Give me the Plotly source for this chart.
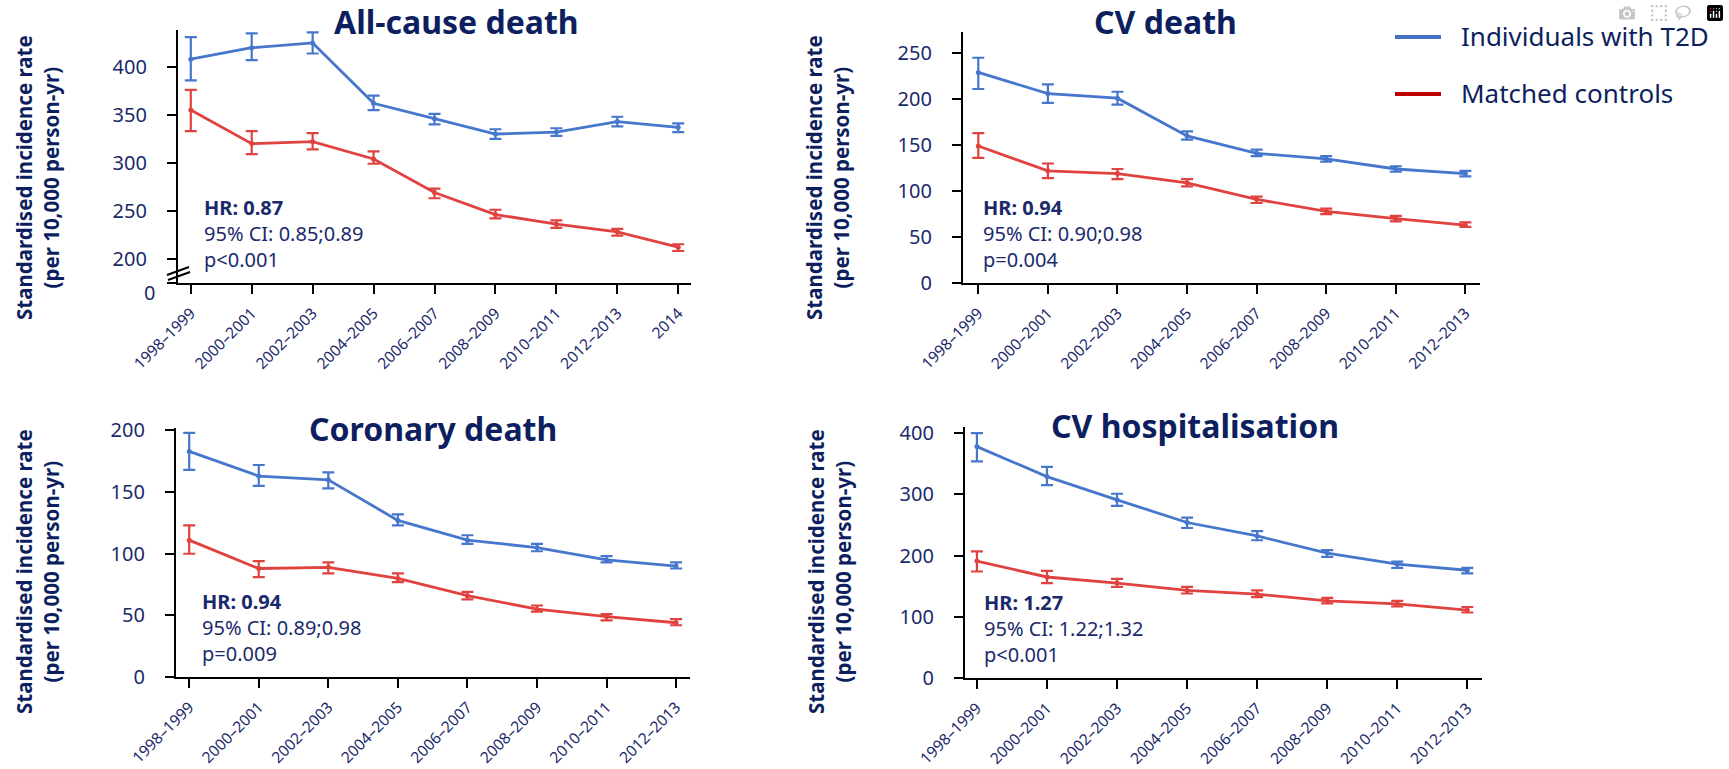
import plotly.graph_objects as go

W, H = 1729, 769

# ---------------- data ----------------
periods_9 = ["1998–1999", "2000–2001", "2002–2003", "2004–2005", "2006–2007",
             "2008–2009", "2010–2011", "2012–2013", "2014"]
periods_8 = ["1998–1999", "2000–2001", "2002–2003", "2004–2005", "2006–2007",
             "2008–2009", "2010–2011", "2012–2013"]

# All-cause death
allcause_t2d = [408, 420, 425, 362, 346, 330, 332, 343, 337]
allcause_t2d_lo = [386, 407, 414, 355, 340, 325, 328, 338, 332]
allcause_t2d_hi = [431, 435, 436, 370, 351, 335, 336, 348, 341]
allcause_ctrl = [355, 320, 322, 304, 269, 246, 236, 228, 212]
allcause_ctrl_lo = [333, 309, 314, 299, 263, 242, 232, 224, 208]
allcause_ctrl_hi = [376, 333, 331, 312, 273, 251, 240, 231, 215]

# CV death
cvdeath_t2d = [229, 206, 201, 160, 141, 135, 124, 119]
cvdeath_t2d_lo = [211, 196, 194, 156, 138, 132, 121, 116]
cvdeath_t2d_hi = [245, 216, 208, 165, 145, 138, 127, 122]
cvdeath_ctrl = [149, 122, 119, 109, 91, 78, 70, 63]
cvdeath_ctrl_lo = [136, 114, 113, 105, 87, 75, 67, 61]
cvdeath_ctrl_hi = [163, 130, 124, 113, 94, 81, 73, 66]

# Coronary death
coronary_t2d = [183, 163, 160, 127, 111, 105, 95, 90]
coronary_t2d_lo = [168, 155, 153, 123, 108, 102, 93, 88]
coronary_t2d_hi = [198, 172, 166, 132, 115, 108, 98, 93]
coronary_ctrl = [111, 88, 89, 80, 66, 55, 49, 44]
coronary_ctrl_lo = [100, 81, 84, 77, 63, 53, 46, 42]
coronary_ctrl_hi = [123, 94, 93, 84, 69, 58, 51, 47]

# CV hospitalisation
cvhosp_t2d = [378, 329, 291, 254, 232, 204, 186, 176]
cvhosp_t2d_lo = [354, 315, 281, 245, 225, 198, 180, 171]
cvhosp_t2d_hi = [400, 345, 301, 262, 240, 209, 190, 180]
cvhosp_ctrl = [191, 165, 155, 143, 137, 126, 121, 111]
cvhosp_ctrl_lo = [174, 155, 149, 138, 132, 122, 117, 107]
cvhosp_ctrl_hi = [207, 175, 162, 149, 143, 131, 126, 116]

titles = ["All-cause death", "CV death", "Coronary death", "CV hospitalisation"]
hr_text = ["HR: 0.87", "HR: 0.94", "HR: 0.94", "HR: 1.27"]
ci_text = ["95% CI: 0.85;0.89", "95% CI: 0.90;0.98", "95% CI: 0.89;0.98", "95% CI: 1.22;1.32"]
p_text = ["p<0.001", "p=0.004", "p=0.009", "p<0.001"]

ytick_vals = [[175, 200, 250, 300, 350, 400],
              [0, 50, 100, 150, 200, 250],
              [0, 50, 100, 150, 200],
              [0, 100, 200, 300, 400]]
# first panel: "0" of the broken axis is written just below the axis corner
ytick_text = [["", "200", "250", "300", "350", "400"],
              ["0", "50", "100", "150", "200", "250"],
              ["0", "50", "100", "150", "200"],
              ["0", "100", "200", "300", "400"]]
break_zero_label = "0"

ytitle_lines = ["Standardised incidence rate", "(per 10,000 person-yr)"]
series_names = ["Individuals with T2D", "Matched controls"]

# ---------------- style ----------------
BLUE = "#4677CC"
RED = "#E0433F"
LEG_BLUE = "#4472C4"
LEG_RED = "#C00000"
NAVY = "#1B2A6B"
NAVY_DARK = "#0D1F5E"
FONT = "Noto Sans"


def px(x):
    return x / W


def py(y):
    return 1 - y / H


# layout geometry in pixels: (x_left, x_right, y_top, y_bottom)
geom = [
    dict(box=(178, 691, 30, 283), xr=(-0.21, 8.21), yr=(174.6, 438.5),
         title=(457, 22), stats_x=202, ytitle=(37, 178)),
    dict(box=(963, 1480, 32, 283), xr=(-0.22, 7.21), yr=(0, 273),
         title=(1165, 22), stats_x=981, ytitle=(827, 178)),
    dict(box=(176, 690, 428, 677), xr=(-0.19, 7.2), yr=(0, 202),
         title=(433, 428), stats_x=200, ytitle=(37, 572)),
    dict(box=(965, 1482, 427, 678), xr=(-0.17, 7.21), yr=(0, 410),
         title=(1195, 425), stats_x=982, ytitle=(829, 572)),
]

panel_data = [
    (periods_9, allcause_t2d, allcause_t2d_lo, allcause_t2d_hi,
     allcause_ctrl, allcause_ctrl_lo, allcause_ctrl_hi),
    (periods_8, cvdeath_t2d, cvdeath_t2d_lo, cvdeath_t2d_hi,
     cvdeath_ctrl, cvdeath_ctrl_lo, cvdeath_ctrl_hi),
    (periods_8, coronary_t2d, coronary_t2d_lo, coronary_t2d_hi,
     coronary_ctrl, coronary_ctrl_lo, coronary_ctrl_hi),
    (periods_8, cvhosp_t2d, cvhosp_t2d_lo, cvhosp_t2d_hi,
     cvhosp_ctrl, cvhosp_ctrl_lo, cvhosp_ctrl_hi),
]

fig = go.Figure()
annotations = []
shapes = []

for i, (cats, t, tlo, thi, c, clo, chi) in enumerate(panel_data):
    sfx = "" if i == 0 else str(i + 1)
    g = geom[i]
    for name, vals, lo, hi, color in [(series_names[1], c, clo, chi, RED),
                                      (series_names[0], t, tlo, thi, BLUE)]:
        fig.add_trace(go.Scatter(
            x=cats, y=vals, mode="lines+markers", name=name,
            line=dict(color=color, width=2.8),
            marker=dict(color=color, size=5),
            error_y=dict(type="data", symmetric=False,
                         array=[h - v for h, v in zip(hi, vals)],
                         arrayminus=[v - l for v, l in zip(vals, lo)],
                         color=color, thickness=2.2, width=6),
            xaxis="x" + sfx, yaxis="y" + sfx, showlegend=False,
            cliponaxis=False))

    x0, x1, y0, y1 = g["box"]
    fig.layout["xaxis" + sfx] = dict(
        domain=[px(x0), px(x1)], range=list(g["xr"]), type="category",
        anchor="y" + sfx, showline=True, linecolor="black", linewidth=2.2,
        ticks="outside", ticklen=9, tickwidth=2.2, tickcolor="black",
        tickangle=-45, tickfont=dict(family=FONT, size=15.5, color=NAVY),
        ticklabelstandoff=4,
        showgrid=False, zeroline=False, fixedrange=True, automargin=False)
    fig.layout["yaxis" + sfx] = dict(
        domain=[py(y1), py(y0)], range=list(g["yr"]), anchor="x" + sfx,
        showline=True, linecolor="black", linewidth=2.2,
        ticks="outside", ticklen=9, tickwidth=2.2, tickcolor="black",
        tickvals=ytick_vals[i], ticktext=ytick_text[i],
        tickfont=dict(family=FONT, size=20, color=NAVY),
        ticklabelstandoff=16,
        showgrid=False, zeroline=False, fixedrange=True, automargin=False)

    # panel title
    annotations.append(dict(
        text="<b>%s</b>" % titles[i], x=px(g["title"][0]), y=py(g["title"][1]),
        xref="paper", yref="paper", xanchor="center", yanchor="middle",
        showarrow=False, font=dict(family=FONT, size=32, color=NAVY_DARK)))
    # y-axis title (two rotated lines)
    annotations.append(dict(
        text="<b>%s<br>%s</b>" % (ytitle_lines[0], ytitle_lines[1]),
        x=px(g["ytitle"][0]), y=py(g["ytitle"][1]), xref="paper", yref="paper",
        xanchor="center", yanchor="middle", textangle=-90, showarrow=False,
        font=dict(family=FONT, size=20.5, color=NAVY_DARK)))
    # statistics text (three lines)
    annotations.append(dict(
        text="<b>%s</b><br>%s<br>%s" % (hr_text[i], ci_text[i], p_text[i]),
        x=px(g["stats_x"]), y=py(y1 - 50), xref="paper", yref="paper",
        xanchor="left", yanchor="middle", align="left", showarrow=False,
        font=dict(family=FONT, size=20, color=NAVY)))

# "0" label of the broken axis (all-cause panel)
annotations.append(dict(
    text=break_zero_label, x=px(157), y=py(292), xref="paper", yref="paper",
    xanchor="right", yanchor="middle", showarrow=False,
    font=dict(family=FONT, size=20, color=NAVY)))

# axis-break marker on the all-cause panel
for (xa, ya, xb, yb) in [(167, 275, 189, 267), (168, 280, 190, 272)]:
    shapes.append(dict(type="line", xref="paper", yref="paper",
                       x0=px(xa), y0=py(ya), x1=px(xb), y1=py(yb),
                       line=dict(color="black", width=2)))

# legend (drawn as line samples + labels)
for name, color, yc in [(series_names[0], LEG_BLUE, 37), (series_names[1], LEG_RED, 94)]:
    shapes.append(dict(type="line", xref="paper", yref="paper",
                       x0=px(1395), x1=px(1441), y0=py(yc), y1=py(yc),
                       line=dict(color=color, width=4)))
    annotations.append(dict(
        text=name, x=px(1459), y=py(yc - 1), xref="paper", yref="paper",
        xanchor="left", yanchor="middle", showarrow=False,
        font=dict(family=FONT, size=26, color=NAVY_DARK)))

fig.update_layout(
    width=W, height=H, autosize=False,
    margin=dict(l=0, r=0, t=0, b=0, autoexpand=False),
    paper_bgcolor="white", plot_bgcolor="white",
    font=dict(family=FONT, color=NAVY),
    annotations=annotations, shapes=shapes, showlegend=False,
)

fig.write_html("out.html", include_plotlyjs=True,
               post_script="document.body.style.margin='0';")
